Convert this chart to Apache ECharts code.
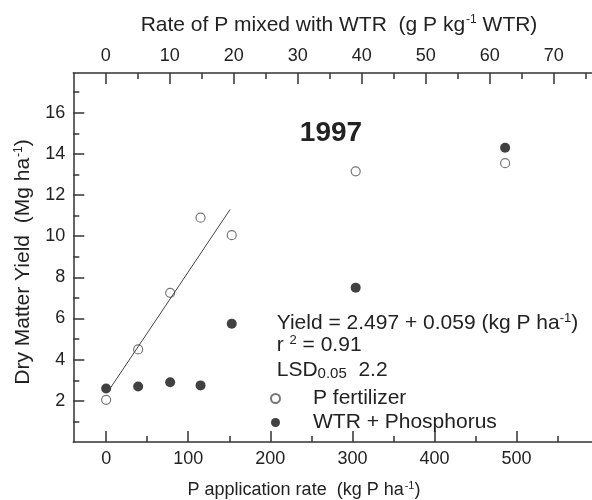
<!DOCTYPE html>
<html><head><meta charset="utf-8">
<script src="https://cdn.jsdelivr.net/npm/echarts@6/dist/echarts.min.js"></script>
<style>html,body{margin:0;padding:0;background:#fff}#c{width:592px;height:500px}</style>
</head><body><div id="c"></div>
<script>
// P application rate (kg P ha-1) and yields (Mg ha-1)
var pFertRate = [0, 39, 78, 115, 153, 304, 486];
var pFertYield = [2.05, 4.5, 7.25, 10.9, 10.05, 13.15, 13.55];
var wtrRate = [0, 39, 78, 115, 153, 304, 486];
var wtrYield = [2.6, 2.7, 2.9, 2.75, 5.75, 7.5, 14.3];
var fitX = [4, 151];
var fitY = [2.55, 11.3];
var bottomTicks = [0, 100, 200, 300, 400, 500];
var bottomMinor = [50, 150, 250, 350, 450, 550];
var topTicks = [0, 10, 20, 30, 40, 50, 60, 70];
var topMinor = [5, 15, 25, 35, 45, 55, 65, 75];
var yTicks = [2, 4, 6, 8, 10, 12, 14, 16];
var yMinor = [1, 3, 5, 7, 9, 11, 13, 15, 17];

var FONT = '"Liberation Sans", Arial, sans-serif';
var TXT = '#222';
var AX = '#333';

function zip(a, b) { return a.map(function (v, i) { return [v, b[i]]; }); }

var chart = echarts.init(document.getElementById('c'));
var lineStyle = { color: AX, width: 1.5 };
function supRich(fs) {
  return { sup: { fontSize: fs, verticalAlign: 'top', lineHeight: fs, fontFamily: FONT, color: TXT, padding: [0, 0, 0, 1] } };
}
var annRich = {
  sup: { fontSize: 13, verticalAlign: 'top', lineHeight: 12, fontFamily: FONT, fill: TXT },
  sub: { fontSize: 15, verticalAlign: 'bottom', lineHeight: 15, padding: [9, 0, 0, 0], fontFamily: FONT, fill: TXT }
};
chart.setOption({
  animation: false,
  grid: { left: 73.3, top: 73, right: -6.7, bottom: 58, outerBoundsMode: 'none', containLabel: false },
  xAxis: [
    {
      type: 'value', position: 'bottom', min: -40, max: 600,
      axisLine: { show: true, lineStyle: lineStyle, onZero: false },
      axisTick: { show: true, inside: true, length: 11, lineStyle: lineStyle, customValues: bottomTicks },
      axisLabel: { customValues: bottomTicks, fontSize: 18, fontFamily: FONT, color: TXT, margin: 8 },
      splitLine: { show: false },
      name: 'P application rate  (kg P ha{sup|-1})',
      nameLocation: 'middle', nameGap: 38,
      nameTextStyle: { fontSize: 18, fontFamily: FONT, color: TXT, lineHeight: 20, padding: [0, 64, 0, 0], rich: supRich(11) }
    },
    {
      type: 'value', position: 'bottom', min: -40, max: 600,
      axisLine: { show: false, onZero: false },
      axisTick: { show: true, inside: true, length: 6, lineStyle: lineStyle, customValues: bottomMinor },
      axisLabel: { show: false }, splitLine: { show: false }
    },
    {
      type: 'value', position: 'top', min: -5.06, max: 77.03,
      axisLine: { show: true, lineStyle: lineStyle, onZero: false },
      axisTick: { show: true, inside: true, length: 11, lineStyle: lineStyle, customValues: topTicks },
      axisLabel: { customValues: topTicks, fontSize: 18, fontFamily: FONT, color: TXT, margin: 8 },
      splitLine: { show: false },
      name: 'Rate of P mixed with WTR  (g P kg{sup|-1} WTR)',
      nameLocation: 'middle', nameGap: 37,
      nameTextStyle: { fontSize: 21, fontFamily: FONT, color: TXT, lineHeight: 22, padding: [0, 0, 0, 6], rich: supRich(12) }
    },
    {
      type: 'value', position: 'top', min: -5.06, max: 77.03,
      axisLine: { show: false, onZero: false },
      axisTick: { show: true, inside: true, length: 6, lineStyle: lineStyle, customValues: topMinor },
      axisLabel: { show: false }, splitLine: { show: false }
    }
  ],
  yAxis: [
    {
      type: 'value', position: 'left', min: 0, max: 17.93,
      axisLine: { show: true, lineStyle: lineStyle, onZero: false },
      axisTick: { show: true, inside: true, length: 11, lineStyle: lineStyle, customValues: yTicks },
      axisLabel: { customValues: yTicks, fontSize: 18, fontFamily: FONT, color: TXT, margin: 8 },
      splitLine: { show: false },
      name: 'Dry Matter Yield  (Mg ha{sup|-1})',
      nameLocation: 'middle', nameGap: 30, nameRotate: 90,
      nameTextStyle: { fontSize: 21, fontFamily: FONT, color: TXT, lineHeight: 22, padding: [0, 9, 0, 0], rich: supRich(12) }
    },
    {
      type: 'value', position: 'left', min: 0, max: 17.93,
      axisLine: { show: false, onZero: false },
      axisTick: { show: true, inside: true, length: 6, lineStyle: lineStyle, customValues: yMinor },
      axisLabel: { show: false }, splitLine: { show: false }
    }
  ],
  legend: {
    orient: 'vertical', left: 265, top: 383, itemWidth: 9, itemHeight: 9, itemGap: 3,
    data: ['P fertilizer', 'WTR + Phosphorus'],
    textStyle: { fontSize: 21, fontFamily: FONT, color: TXT, padding: [0, 0, 0, 28] }
  },
  series: [
    {
      name: 'fit', type: 'line', xAxisIndex: 0, yAxisIndex: 0,
      data: zip(fitX, fitY), symbol: 'none', silent: true,
      lineStyle: { color: '#444', width: 1 }
    },
    {
      name: 'P fertilizer', type: 'scatter', xAxisIndex: 0, yAxisIndex: 0,
      data: zip(pFertRate, pFertYield), symbol: 'circle', symbolSize: 9,
      itemStyle: { color: '#fff', borderColor: '#555', borderWidth: 1.2 }
    },
    {
      name: 'WTR + Phosphorus', type: 'scatter', xAxisIndex: 0, yAxisIndex: 0,
      data: zip(wtrRate, wtrYield), symbol: 'circle', symbolSize: 10,
      itemStyle: { color: '#111' }
    }
  ],
  graphic: [
    { type: 'text', x: 331, y: 133, style: { text: '1997', font: 'bold 28px ' + FONT, fill: TXT, align: 'center', verticalAlign: 'middle' } },
    { type: 'text', x: 276.7, y: 323, style: {
        text: 'Yield = 2.497 + 0.059 (kg P ha{sup|-1})', fontSize: 21, fontFamily: FONT, fill: TXT,
        verticalAlign: 'middle', lineHeight: 23, rich: annRich } },
    { type: 'text', x: 276.7, y: 345, style: {
        text: 'r {sup|2} = 0.91', fontSize: 21, fontFamily: FONT, fill: TXT,
        verticalAlign: 'middle', lineHeight: 23, rich: annRich } },
    { type: 'text', x: 276.7, y: 370, style: {
        text: 'LSD{sub|0.05}  2.2', fontSize: 21, fontFamily: FONT, fill: TXT,
        verticalAlign: 'middle', lineHeight: 23, rich: annRich } }
  ]
});
</script></body></html>
